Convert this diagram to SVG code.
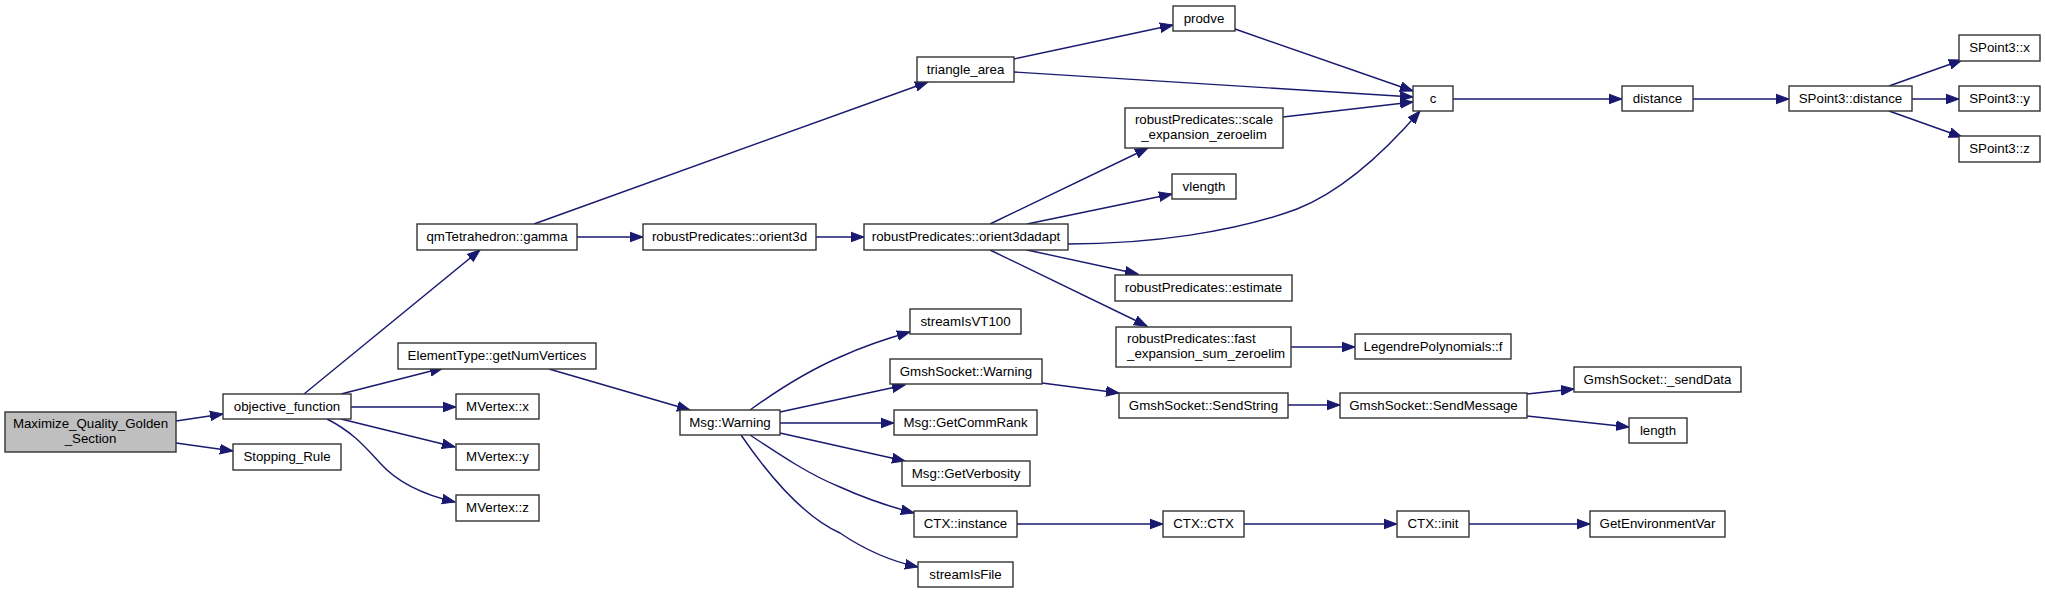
<svg xmlns="http://www.w3.org/2000/svg" width="2045" height="593" viewBox="0 0 2045 593">
<style>
.n rect{fill:#ffffff;stroke:#333333;stroke-width:1.4}
.root rect{fill:#bfbfbf}
.n text{font-family:"Liberation Sans",Arial,sans-serif;font-size:13.3px;fill:#000000;text-anchor:middle}
.n text.l{text-anchor:start}
.e path{fill:none;stroke:#191970;stroke-width:1.4;marker-end:url(#arr)}
</style>
<defs>
<marker id="arr" markerUnits="userSpaceOnUse" markerWidth="15" markerHeight="12" refX="13" refY="6" orient="auto">
<path d="M0,1.2 L13,6 L0,10.8 z" fill="#191970" stroke="#191970" stroke-width="1"/>
</marker>
</defs>
<rect width="2045" height="593" fill="#ffffff"/>
<g id="connectors" class="e">
<path d="M176,421 L223,414"/>
<path d="M176,443 L233,451"/>
<path d="M304,394 L480,250"/>
<path d="M341,394 L443,368"/>
<path d="M351,407 L456,407"/>
<path d="M341,419 L455,447"/>
<path d="M327,419 C353,432 366,448 380,463 C396,481 420,494 455,502"/>
<path d="M534,224 L928,82"/>
<path d="M577,237 L643,237"/>
<path d="M816,237 L864,237"/>
<path d="M1014,59 L1173,25"/>
<path d="M1014,72 L1413,97"/>
<path d="M1235,29 L1413,91"/>
<path d="M1283,117 L1413,102"/>
<path d="M1068,244 C1150,244 1235,232 1297,209 C1345,190 1388,148 1420,111"/>
<path d="M990,224 L1148,148"/>
<path d="M1027,224 L1172,194"/>
<path d="M1027,250 L1138,274"/>
<path d="M990,250 L1147,326"/>
<path d="M1291,347 L1355,347"/>
<path d="M1452,99 L1622,99"/>
<path d="M1693,99 L1789,99"/>
<path d="M1889,86 L1962,60"/>
<path d="M1912,99 L1959,99"/>
<path d="M1889,111 L1962,137"/>
<path d="M549,369 L690,410"/>
<path d="M750,410 C775,392 810,370 840,357 C862,347 885,339 910,332"/>
<path d="M780,412 L905,385"/>
<path d="M780,423 L894,423"/>
<path d="M780,433 L905,461"/>
<path d="M750,435 C780,455 810,475 840,487 C862,497 887,506 914,513"/>
<path d="M741,435 C765,470 800,515 840,533 C865,550 890,561 918,567"/>
<path d="M1042,383 L1119,393"/>
<path d="M1288,405 L1340,405"/>
<path d="M1527,394 L1574,389"/>
<path d="M1527,416 L1629,427"/>
<path d="M1017,524 L1163,524"/>
<path d="M1244,524 L1397,524"/>
<path d="M1469,524 L1590,524"/>
</g>
<g id="n_maximize" class="n root"><rect x="5" y="412" width="171" height="40"/><text x="90.5" y="428">Maximize_Quality_Golden</text><text x="90.5" y="443">_Section</text></g>
<g id="n_objective" class="n"><rect x="223" y="394" width="128" height="25"/><text x="287" y="410.5">objective_function</text></g>
<g id="n_stopping" class="n"><rect x="233" y="444" width="108" height="26"/><text x="287" y="461">Stopping_Rule</text></g>
<g id="n_gamma" class="n"><rect x="417" y="224" width="160" height="26"/><text x="497" y="241">qmTetrahedron::gamma</text></g>
<g id="n_orient3d" class="n"><rect x="643" y="224" width="173" height="26"/><text x="729.5" y="241">robustPredicates::orient3d</text></g>
<g id="n_orient3dadapt" class="n"><rect x="864" y="224" width="204" height="26"/><text x="966" y="241">robustPredicates::orient3dadapt</text></g>
<g id="n_triangle" class="n"><rect x="917" y="57" width="97" height="25"/><text x="965.5" y="73.5">triangle_area</text></g>
<g id="n_prodve" class="n"><rect x="1173" y="6" width="62" height="25"/><text x="1204" y="22.5">prodve</text></g>
<g id="n_c" class="n"><rect x="1413" y="86" width="40" height="25"/><text x="1433" y="102.5">c</text></g>
<g id="n_scale" class="n"><rect x="1125" y="108" width="158" height="40"/><text x="1204" y="124">robustPredicates::scale</text><text x="1204" y="139">_expansion_zeroelim</text></g>
<g id="n_vlength" class="n"><rect x="1172" y="174" width="64" height="25"/><text x="1204" y="190.5">vlength</text></g>
<g id="n_estimate" class="n"><rect x="1115" y="275" width="177" height="26"/><text x="1203.5" y="292">robustPredicates::estimate</text></g>
<g id="n_fast" class="n"><rect x="1116" y="327" width="175" height="40"/><text class="l" x="1127" y="343">robustPredicates::fast</text><text class="l" x="1127" y="358">_expansion_sum_zeroelim</text></g>
<g id="n_legendre" class="n"><rect x="1355" y="334" width="156" height="25"/><text x="1433" y="350.5">LegendrePolynomials::f</text></g>
<g id="n_distance" class="n"><rect x="1622" y="86" width="71" height="25"/><text x="1657.5" y="102.5">distance</text></g>
<g id="n_sp3distance" class="n"><rect x="1789" y="86" width="123" height="25"/><text x="1850.5" y="102.5">SPoint3::distance</text></g>
<g id="n_sp3x" class="n"><rect x="1959" y="35" width="81" height="26"/><text x="1999.5" y="52">SPoint3::x</text></g>
<g id="n_sp3y" class="n"><rect x="1959" y="86" width="81" height="25"/><text x="1999.5" y="102.5">SPoint3::y</text></g>
<g id="n_sp3z" class="n"><rect x="1959" y="136" width="81" height="26"/><text x="1999.5" y="153">SPoint3::z</text></g>
<g id="n_getnumvert" class="n"><rect x="398" y="343" width="198" height="26"/><text x="497" y="360">ElementType::getNumVertices</text></g>
<g id="n_mvx" class="n"><rect x="456" y="394" width="83" height="25"/><text x="497.5" y="410.5">MVertex::x</text></g>
<g id="n_mvy" class="n"><rect x="456" y="444" width="83" height="26"/><text x="497.5" y="461">MVertex::y</text></g>
<g id="n_mvz" class="n"><rect x="456" y="495" width="83" height="26"/><text x="497.5" y="512">MVertex::z</text></g>
<g id="n_msgwarning" class="n"><rect x="680" y="410" width="100" height="25"/><text x="730" y="426.5">Msg::Warning</text></g>
<g id="n_vt100" class="n"><rect x="910" y="309" width="111" height="25"/><text x="965.5" y="325.5">streamIsVT100</text></g>
<g id="n_gswarning" class="n"><rect x="890" y="359" width="152" height="25"/><text x="966" y="375.5">GmshSocket::Warning</text></g>
<g id="n_commrank" class="n"><rect x="894" y="410" width="143" height="25"/><text x="965.5" y="426.5">Msg::GetCommRank</text></g>
<g id="n_verbosity" class="n"><rect x="902" y="461" width="128" height="25"/><text x="966" y="477.5">Msg::GetVerbosity</text></g>
<g id="n_ctxinstance" class="n"><rect x="914" y="511" width="103" height="26"/><text x="965.5" y="528">CTX::instance</text></g>
<g id="n_isfile" class="n"><rect x="918" y="562" width="95" height="25"/><text x="965.5" y="578.5">streamIsFile</text></g>
<g id="n_sendstring" class="n"><rect x="1119" y="393" width="169" height="25"/><text x="1203.5" y="409.5">GmshSocket::SendString</text></g>
<g id="n_ctxctx" class="n"><rect x="1163" y="511" width="81" height="26"/><text x="1203.5" y="528">CTX::CTX</text></g>
<g id="n_sendmessage" class="n"><rect x="1340" y="393" width="187" height="25"/><text x="1433.5" y="409.5">GmshSocket::SendMessage</text></g>
<g id="n_senddata" class="n"><rect x="1574" y="367" width="167" height="25"/><text x="1657.5" y="383.5">GmshSocket::_sendData</text></g>
<g id="n_length" class="n"><rect x="1629" y="418" width="58" height="25"/><text x="1658" y="434.5">length</text></g>
<g id="n_ctxinit" class="n"><rect x="1397" y="511" width="72" height="26"/><text x="1433" y="528">CTX::init</text></g>
<g id="n_getenv" class="n"><rect x="1590" y="511" width="135" height="26"/><text x="1657.5" y="528">GetEnvironmentVar</text></g>
</svg>
